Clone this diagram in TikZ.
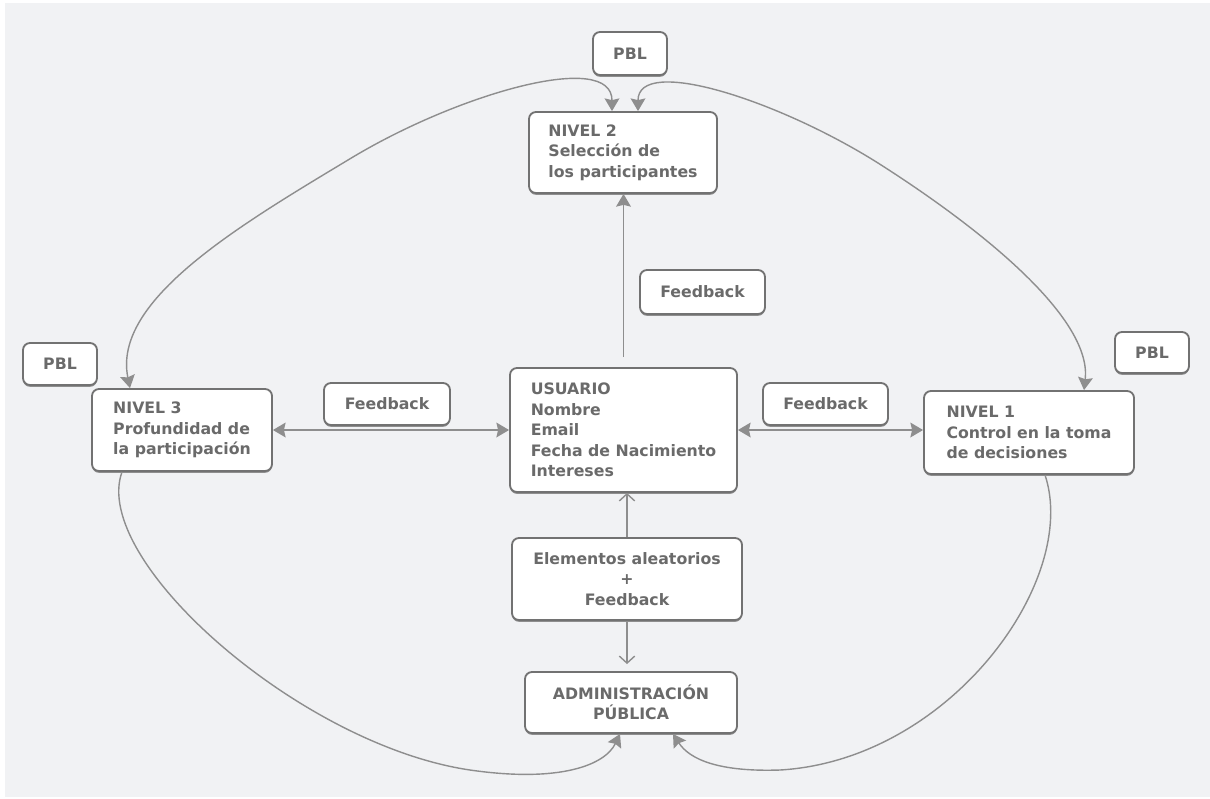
\documentclass[tikz,border=0pt]{standalone}
\usepackage{fontspec}
\setmainfont{DejaVu Sans}
\usetikzlibrary{arrows.meta,positioning,shadows}
\definecolor{bggray}{HTML}{F1F2F4}
\definecolor{boxgray}{HTML}{727272}
\definecolor{txtgray}{HTML}{6A6A6A}
\definecolor{linegray}{HTML}{8E8E8E}
\tikzset{
  box/.style={draw=boxgray, line width=1.3pt, rounded corners=5pt, fill=white,
    text=txtgray, font=\bfseries\fontsize{11.2}{14.6}\selectfont, inner sep=0pt,
    drop shadow={shadow xshift=0pt, shadow yshift=-1.3pt, fill=boxgray!80, opacity=1}},
  lbox/.style={box, align=left},
  cbox/.style={box, align=center},
  link/.style={draw=linegray, line width=1pt},
  arr/.style={-{Stealth[length=9pt,width=10.5pt,inset=1.2pt]}},
  arrboth/.style={{Stealth[length=9pt,width=10.5pt,inset=1.2pt]}-{Stealth[length=9pt,width=10.5pt,inset=1.2pt]}},
  openarr/.style={-{Straight Barb[length=5pt,width=11pt]}}
}
\begin{document}
\begin{tikzpicture}[x=0.025cm, y=-0.025cm]
    \useasboundingbox (0,0) rectangle (1210,798);
    \fill[white] (0,0) rectangle (1210,798);
    \fill[bggray] (5,3) rectangle (1210,797);

    % boxes
    \node[cbox, minimum width=1.85cm, minimum height=1.075cm] (pbltop) at (630,53.5) {PBL};
    \node[lbox, minimum width=4.7cm, minimum height=2.025cm] (nivel2) at (623,152.5)
      {NIVEL 2\\Selección de\\los participantes};
    \node[cbox, minimum width=3.125cm, minimum height=1.1cm] (fbtop) at (702.5,292) {Feedback};
    \node[lbox, minimum width=5.675cm, minimum height=3.1cm] (usuario) at (623.5,430)
      {USUARIO\\Nombre\\Email\\Fecha de Nacimiento\\Intereses};
    \node[lbox, minimum width=4.5cm, minimum height=2.05cm] (nivel3) at (182,430)
      {NIVEL 3\\Profundidad de\\la participación};
    \node[cbox, minimum width=1.85cm, minimum height=1.05cm] (pblleft) at (60,364) {PBL};
    \node[cbox, minimum width=3.15cm, minimum height=1.05cm] (fbleft) at (387,404) {Feedback};
    \node[cbox, minimum width=3.125cm, minimum height=1.05cm] (fbright) at (825.5,404) {Feedback};
    \node[lbox, minimum width=5.25cm, minimum height=2.075cm] (nivel1) at (1029,432.5)
      {NIVEL 1\\Control en la toma\\de decisiones};
    \node[cbox, minimum width=1.85cm, minimum height=1.025cm] (pblright) at (1152,352.5) {PBL};
    \node[cbox, minimum width=5.75cm, minimum height=2.05cm] (elem) at (627,579)
      {Elementos aleatorios\\+\\Feedback};
    \node[cbox, minimum width=5.3cm, minimum height=1.525cm] (admin) at (631,702.5)
      {ADMINISTRACIÓN\\PÚBLICA};

    % straight links
    \draw[link, arr, shorten <=7pt] (usuario.north) -- (usuario.north |- nivel2.south);
    \draw[link, arrboth] (nivel3.east) -- (nivel3.east -| usuario.west);
    \draw[link, arrboth] (usuario.east) -- (usuario.east -| nivel1.west);
    \draw[link, openarr] (elem.north) -- (elem.north |- usuario.south);
    \draw[link, openarr, shorten >=5pt] (elem.south) -- (elem.south |- admin.north);

    % curved links
    \draw[link, arrboth] (nivel3.north -| 130,0) .. controls (112,300) and (240,225) .. (353,157)
      .. controls (460,93) and (612,50) .. (nivel2.north -| 612,0);
    \draw[link, arrboth] (nivel2.north -| 638,0) .. controls (638,55) and (778,100) .. (878,163)
      .. controls (988,233) and (1092,320) .. (nivel1.north -| 1084,0);
    \draw[link, arr] (nivel3.south -| 122,0) .. controls (90,560) and (300,745) .. (470,770)
      .. controls (560,783) and (605,765) .. (admin.south -| 620,0);
    \draw[link, arr] (nivel1.south -| 1045,0) .. controls (1080,580) and (950,760) .. (780,770)
      .. controls (720,772) and (690,760) .. (admin.south -| 673,0);
\end{tikzpicture}
\end{document}
